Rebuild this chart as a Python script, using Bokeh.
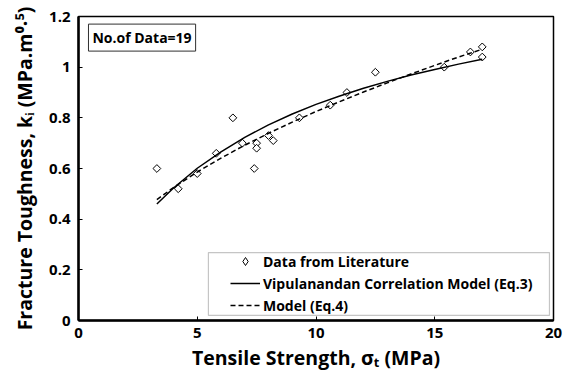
import numpy as np
from bokeh.plotting import figure
from bokeh.models import Range1d, FixedTicker, Label, BoxAnnotation, Legend, LegendItem
from bokeh.embed import file_html
from bokeh.resources import INLINE

# Data from literature (tensile strength MPa, fracture toughness MPa.m^0.5)
tensile_strength = [3.3, 4.2, 5.0, 5.8, 6.5, 6.9, 7.4, 7.5, 7.5, 8.0, 8.2,
                    9.3, 10.6, 11.3, 12.5, 15.4, 16.5, 17.0, 17.0]
fracture_toughness = [0.60, 0.52, 0.58, 0.66, 0.80, 0.70, 0.60, 0.70, 0.68, 0.73, 0.71,
                      0.80, 0.85, 0.90, 0.98, 1.00, 1.06, 1.08, 1.04]

# Model curves
curve_x = [3.3, 4, 5, 6, 7, 8, 9, 10, 11, 12, 13, 14, 15, 16, 17]
vipulanandan_y = [0.460, 0.523, 0.601, 0.666, 0.723, 0.772, 0.815, 0.853,
                  0.886, 0.917, 0.944, 0.969, 0.991, 1.012, 1.031]
eq4_y = [0.477, 0.525, 0.586, 0.641, 0.692, 0.739, 0.783, 0.825,
         0.864, 0.902, 0.938, 0.973, 1.007, 1.040, 1.071]

x_ticks = [0, 5, 10, 15, 20]
y_ticks = [0, 0.2, 0.4, 0.6, 0.8, 1.0, 1.2]
y_tick_labels = ["0", "0.2", "0.4", "0.6", "0.8", "1", "1.2"]

FONT = "Open Sans"

p = figure(width=564, height=373, x_range=Range1d(0, 20), y_range=Range1d(0, 1.2),
           output_backend="svg", toolbar_location=None,
           min_border_left=78, min_border_right=11, min_border_top=16, min_border_bottom=53)
p.background_fill_color = "white"
p.border_fill_color = "white"
p.xgrid.visible = False
p.ygrid.visible = False
p.outline_line_color = "black"
p.outline_line_width = 1.5
p.outline_line_alpha = 1

p.xaxis.ticker = FixedTicker(ticks=x_ticks)
p.yaxis.ticker = FixedTicker(ticks=y_ticks)
p.yaxis.major_label_overrides = {t: l for t, l in zip(y_ticks, y_tick_labels)}
p.xaxis.axis_label = "Tensile Strength, \u03c3\u209c (MPa)"
p.yaxis.axis_label = "Fracture Toughness, k\u1d62 (MPa.m\u2070\u00b7\u2075)"
for ax in (p.xaxis, p.yaxis):
    ax.axis_line_width = 2.5
    ax.axis_line_color = "black"
    ax.major_tick_in = 4
    ax.major_tick_out = 0
    ax.minor_tick_in = 0
    ax.minor_tick_out = 0
    ax.major_tick_line_color = "black"
    ax.major_tick_line_width = 1
    ax.major_label_text_font = FONT
    ax.major_label_text_font_style = "bold"
    ax.major_label_text_font_size = "15px"
    ax.major_label_text_color = "black"
    ax.axis_label_text_font = FONT
    ax.axis_label_text_font_style = "bold"
    ax.axis_label_text_font_size = "19.5px"
    ax.axis_label_text_color = "black"
p.xaxis.major_label_standoff = 7
p.yaxis.major_label_standoff = 8
p.xaxis.axis_label_standoff = 3
p.yaxis.axis_label_standoff = 8

# legend frame box
legend_box = BoxAnnotation(left=5.47, right=19.83, bottom=0.02, top=0.268,
                           fill_color="white", fill_alpha=1,
                           line_color="#404040", line_width=1.2)
p.add_layout(legend_box)

count_label = Label(x=0.42, y=1.17, text="No.of Data=19", text_font=FONT,
                    text_font_style="bold", text_font_size="14px", text_color="black",
                    text_align="left", text_baseline="top",
                    border_line_color="#303030", border_line_width=1,
                    background_fill_color="white", padding=4)
p.add_layout(count_label)

r_pts = p.scatter(tensile_strength, fracture_toughness, marker="square", angle=np.pi / 4,
                  size=5.5, fill_color="white", line_color="black", line_width=1)
r_vip = p.line(curve_x, vipulanandan_y, line_color="black", line_width=1.5)
r_eq4 = p.line(curve_x, eq4_y, line_color="black", line_width=1.5, line_dash="5 3")
# legend-only marker (diamond shape as in the legend swatch)
r_key = p.scatter([np.nan], [np.nan], marker="diamond", size=9,
                  fill_color="white", line_color="black", line_width=1)

legend = Legend(items=[LegendItem(label="Data from Literature", renderers=[r_key]),
                       LegendItem(label="Vipulanandan Correlation Model (Eq.3)", renderers=[r_vip]),
                       LegendItem(label="Model (Eq.4)", renderers=[r_eq4])],
                location=(152, 5), padding=0, margin=0, spacing=2,
                glyph_width=30, glyph_height=20, label_height=20, label_standoff=3,
                border_line_alpha=0, background_fill_alpha=0,
                label_text_font=FONT, label_text_font_style="bold",
                label_text_font_size="14px", label_text_color="black")
p.add_layout(legend)

open("out.html", "w").write(file_html(p, INLINE))
